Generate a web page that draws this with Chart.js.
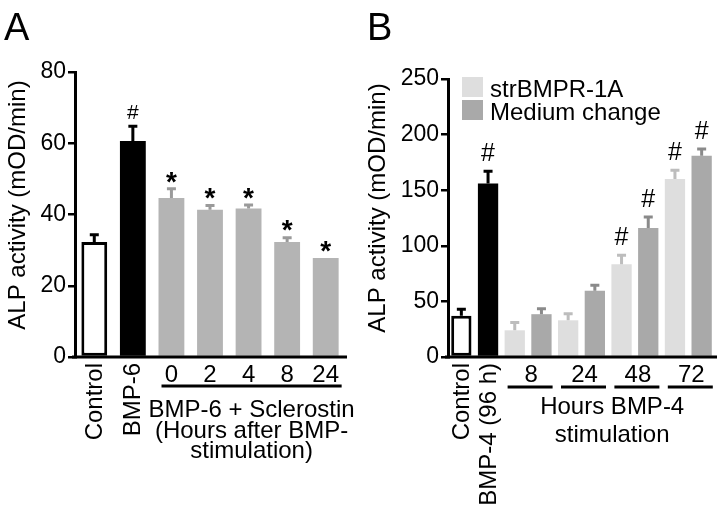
<!DOCTYPE html>
<html>
<head>
<meta charset="utf-8">
<script src="https://cdn.jsdelivr.net/npm/chart.js@4.4.1/dist/chart.umd.min.js"></script>
<style>
  body { margin: 0; background: #fff; width: 720px; height: 507px; overflow: hidden; position: relative; }
  canvas { position: absolute; top: 0; }
</style>
</head>
<body>
<canvas id="chartA" width="360" height="507" style="left:0"></canvas>
<canvas id="chartB" width="360" height="507" style="left:360px"></canvas>
<script>
// panel A: BMP-6 + sclerostin
const catsA = ['Control', 'BMP-6', '0', '2', '4', '8', '24'];
const valuesA = [32.3, 60.6, 44.6, 41.3, 41.7, 32.3, 27.8];
const errorsA = [2, 4.2, 2.6, 1.2, 1.0, 1.2, 0];
const marksA = ['', '#', '*', '*', '*', '*', '*'];
const ticksA = [0, 20, 40, 60, 80];

// panel B: BMP-4, strBMPR-1A vs medium change
const catsB = ['Control', 'BMP-4 (96 h)', '8', '8', '24', '24', '48', '48', '72', '72'];
const seriesB = ['ctrl', 'bmp', 'str', 'med', 'str', 'med', 'str', 'med', 'str', 'med'];
const valuesB = [37, 156, 24, 38.5, 33, 59.5, 83.5, 116, 160, 181];
const errorsB = [6, 11, 7, 5, 6, 5, 8, 10, 8, 6];
const marksB = ['', '#', '', '', '', '', '#', '#', '#', '#'];
const ticksB = [0, 50, 100, 150, 200, 250];
const legendB = ['strBMPR-1A', 'Medium change'];

const FONT = "'Liberation Sans', Arial, Helvetica, sans-serif";
Chart.defaults.font.family = FONT;
Chart.defaults.color = '#000';

const fill = { ctrl: '#ffffff', bmp: '#000000', sc: '#b4b4b4', str: '#dedede', med: '#a9a9a9' };
const errCol = { ctrl: '#000000', bmp: '#000000', sc: '#9a9a9a', str: '#bdbdbd', med: '#8a8a8a' };
const seriesA = ['ctrl', 'bmp', 'sc', 'sc', 'sc', 'sc', 'sc'];

function overlay(o) {
  return {
    id: 'overlay',
    afterDatasetsDraw(chart) {
      const ctx = chart.ctx, y = chart.scales.y;
      const bars = chart.getDatasetMeta(0).data;
      ctx.save();
      bars.forEach((bar, i) => {
        if (!o.errors[i]) return;
        const top = y.getPixelForValue(o.values[i]);
        const e = y.getPixelForValue(o.values[i] + o.errors[i]);
        ctx.strokeStyle = errCol[o.series[i]];
        ctx.lineWidth = 3;
        ctx.beginPath();
        ctx.moveTo(bar.x, top); ctx.lineTo(bar.x, e);
        ctx.moveTo(bar.x - 4.5, e); ctx.lineTo(bar.x + 4.5, e);
        ctx.stroke();
      });
      ctx.restore();
    },
    afterDraw(chart) {
      const ctx = chart.ctx, a = chart.chartArea, y = chart.scales.y;
      const bars = chart.getDatasetMeta(0).data;
      ctx.save();
      ctx.fillStyle = '#000';

      // x axis line
      ctx.fillRect(a.left - 3, a.bottom - 1.5, a.right - a.left + 5, 3);

      // panel letter
      ctx.font = '38px ' + FONT;
      ctx.textAlign = 'left'; ctx.textBaseline = 'alphabetic';
      ctx.fillText(o.letter, o.letterX, 40);

      // y title
      ctx.save();
      ctx.translate(18, o.titleY);
      ctx.rotate(-Math.PI / 2);
      ctx.font = '24px ' + FONT;
      ctx.textAlign = 'center'; ctx.textBaseline = 'middle';
      ctx.fillText('ALP activity (mOD/min)', 0, 0);
      ctx.restore();

      // significance marks
      bars.forEach((bar, i) => {
        const m = o.marks[i];
        if (!m) return;
        const e = y.getPixelForValue(o.values[i] + o.errors[i]);
        ctx.textAlign = 'center'; ctx.textBaseline = 'middle';
        if (m === '#') {
          ctx.font = o.hashFont + ' ' + FONT;
          ctx.fillText('#', bar.x, e - o.hashGap);
        } else {
          ctx.font = 'bold 28px ' + FONT;
          ctx.fillText('*', bar.x, e - 6);
        }
      });

      // rotated labels for the first two bars
      ctx.font = '24px ' + FONT;
      for (let i = 0; i < 2; i++) {
        ctx.save();
        ctx.translate(bars[i].x + 1, 363);
        ctx.rotate(-Math.PI / 2);
        ctx.textAlign = 'right'; ctx.textBaseline = 'middle';
        ctx.fillText(o.cats[i], 0, 0);
        ctx.restore();
      }
      o.extra(ctx, bars, a);
      ctx.restore();
    }
  };
}

function makeChart(id, o) {
  return new Chart(document.getElementById(id), {
    type: 'bar',
    data: {
      labels: o.cats,
      datasets: [{
        data: o.values,
        backgroundColor: o.series.map(s => fill[s]),
        borderColor: '#000',
        borderWidth: o.series.map(s => s === 'ctrl' ? 3 : 0),
        borderSkipped: false,
        categoryPercentage: 1,
        barPercentage: o.barPct
      }]
    },
    options: {
      responsive: false,
      animation: false,
      devicePixelRatio: 1,
      layout: { padding: { top: o.top, bottom: 150, left: 0, right: o.right } },
      plugins: { legend: { display: false }, tooltip: { enabled: false } },
      scales: {
        x: { display: false },
        y: {
          min: 0, max: o.max,
          afterFit(s) { s.width = o.axisW; },
          afterBuildTicks(s) { s.ticks = o.ticks.map(v => ({ value: v })); },
          border: { display: true, color: '#000', width: 3 },
          grid: { drawOnChartArea: false, drawTicks: true, tickLength: 7, color: '#000', lineWidth: 2.5 },
          ticks: { font: { size: 23 }, color: '#000', padding: 2 }
        }
      }
    },
    plugins: [overlay(o)]
  });
}

makeChart('chartA', {
  cats: catsA, values: valuesA, errors: errorsA, marks: marksA, series: seriesA,
  ticks: ticksA, max: 80, top: 72, right: 15, axisW: 75, barPct: 0.67,
  letter: 'A', letterX: 4, titleY: 205, hashFont: '21px', hashGap: 13,
  extra(ctx, bars) {
    ctx.font = '24px ' + FONT;
    ctx.textAlign = 'center'; ctx.textBaseline = 'alphabetic';
    for (let i = 2; i < bars.length; i++) ctx.fillText(catsA[i], bars[i].x, 382);
    const f = bars[2], l = bars[bars.length - 1];
    ctx.fillRect(f.x - f.width / 2 + 3, 384.5, (l.x + l.width / 2 + 3) - (f.x - f.width / 2 + 3), 3);
    const cx = (f.x + l.x) / 2 + 3;
    ctx.fillText('BMP-6 + Sclerostin', cx, 417);
    ctx.fillText('(Hours after BMP-', cx, 437.5);
    ctx.fillText('stimulation)', cx, 458);
  }
});

makeChart('chartB', {
  cats: catsB, values: valuesB, errors: errorsB, marks: marksB, series: seriesB,
  ticks: ticksB, max: 250, top: 79, right: 5, axisW: 88, barPct: 0.76,
  letter: 'B', letterX: 7, titleY: 208, hashFont: '25px', hashGap: 17,
  extra(ctx, bars) {
    ctx.font = '24px ' + FONT;
    ctx.textAlign = 'center'; ctx.textBaseline = 'alphabetic';
    for (let i = 2; i < bars.length; i += 2) {
      const b1 = bars[i], b2 = bars[i + 1];
      ctx.fillText(catsB[i], (b1.x + b2.x) / 2 + 3, 382);
      const x0 = b1.x - b1.width / 2 + 3, x1 = b2.x + b2.width / 2 + 1;
      ctx.fillRect(x0, 385.5, x1 - x0, 3);
    }
    const cx = (bars[2].x + bars[9].x) / 2 + 4;
    ctx.fillText('Hours BMP-4', cx, 414);
    ctx.fillText('stimulation', cx, 442);

    // legend
    const keys = ['str', 'med'];
    legendB.forEach((t, i) => {
      ctx.fillStyle = fill[keys[i]];
      ctx.fillRect(102, 77 + i * 23, 21, 20);
      ctx.fillStyle = '#000';
      ctx.textAlign = 'left';
      ctx.fillText(t, 130, 97 + i * 23);
    });
  }
});
</script>
</body>
</html>
